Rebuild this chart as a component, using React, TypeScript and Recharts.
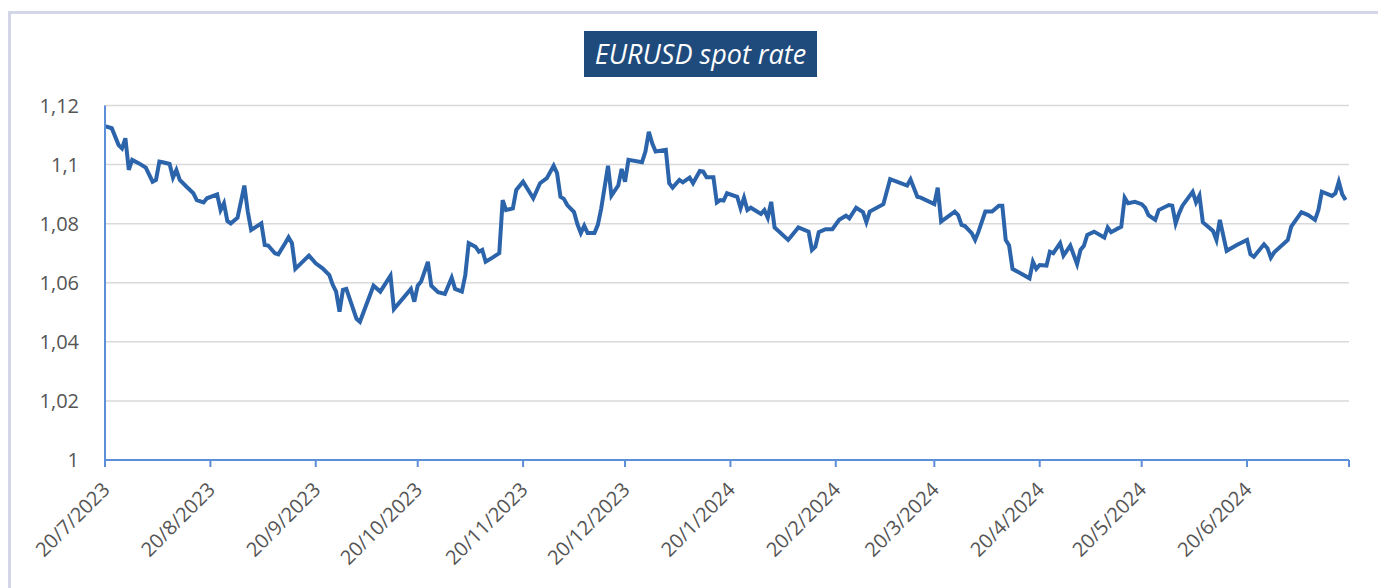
import React from 'react'
import { LineChart, Line, XAxis, YAxis, CartesianGrid } from 'recharts'

// day by day where the line turns
const dates = [
  '2023-07-20', '2023-07-22', '2023-07-24', '2023-07-25', '2023-07-26', '2023-07-27', '2023-07-28', '2023-07-30',
  '2023-08-01', '2023-08-03', '2023-08-04', '2023-08-05', '2023-08-06', '2023-08-08', '2023-08-09', '2023-08-10',
  '2023-08-11', '2023-08-13', '2023-08-15', '2023-08-16', '2023-08-18', '2023-08-19', '2023-08-22', '2023-08-23',
  '2023-08-24', '2023-08-25', '2023-08-26', '2023-08-28', '2023-08-30', '2023-08-31', '2023-09-01', '2023-09-04',
  '2023-09-05', '2023-09-06', '2023-09-08', '2023-09-09', '2023-09-11', '2023-09-12', '2023-09-13', '2023-09-14',
  '2023-09-18', '2023-09-20', '2023-09-22', '2023-09-24', '2023-09-25', '2023-09-26', '2023-09-27', '2023-09-28',
  '2023-09-29', '2023-10-02', '2023-10-03', '2023-10-07', '2023-10-09', '2023-10-12', '2023-10-13', '2023-10-18',
  '2023-10-19', '2023-10-20', '2023-10-21', '2023-10-23', '2023-10-24', '2023-10-26', '2023-10-28', '2023-10-30',
  '2023-10-31', '2023-11-02', '2023-11-03', '2023-11-04', '2023-11-06', '2023-11-07', '2023-11-08', '2023-11-09',
  '2023-11-11', '2023-11-13', '2023-11-14', '2023-11-15', '2023-11-17', '2023-11-18', '2023-11-20', '2023-11-23',
  '2023-11-25', '2023-11-27', '2023-11-29', '2023-11-30', '2023-12-01', '2023-12-02', '2023-12-03', '2023-12-05',
  '2023-12-06', '2023-12-07', '2023-12-08', '2023-12-09', '2023-12-11', '2023-12-12', '2023-12-13', '2023-12-15',
  '2023-12-16', '2023-12-18', '2023-12-19', '2023-12-20', '2023-12-21', '2023-12-25', '2023-12-26', '2023-12-27',
  '2023-12-28', '2023-12-29', '2024-01-01', '2024-01-02', '2024-01-03', '2024-01-05', '2024-01-06', '2024-01-08',
  '2024-01-09', '2024-01-11', '2024-01-12', '2024-01-13', '2024-01-15', '2024-01-16', '2024-01-17', '2024-01-18',
  '2024-01-19', '2024-01-22', '2024-01-23', '2024-01-24', '2024-01-25', '2024-01-26', '2024-01-29', '2024-01-30',
  '2024-01-31', '2024-02-01', '2024-02-02', '2024-02-06', '2024-02-09', '2024-02-12', '2024-02-13', '2024-02-14',
  '2024-02-15', '2024-02-17', '2024-02-19', '2024-02-21', '2024-02-23', '2024-02-24', '2024-02-26', '2024-02-28',
  '2024-02-29', '2024-03-01', '2024-03-05', '2024-03-07', '2024-03-12', '2024-03-13', '2024-03-15', '2024-03-16',
  '2024-03-20', '2024-03-21', '2024-03-22', '2024-03-26', '2024-03-27', '2024-03-28', '2024-03-29', '2024-03-31',
  '2024-04-01', '2024-04-02', '2024-04-04', '2024-04-06', '2024-04-08', '2024-04-09', '2024-04-10', '2024-04-11',
  '2024-04-12', '2024-04-17', '2024-04-18', '2024-04-19', '2024-04-20', '2024-04-22', '2024-04-23', '2024-04-24',
  '2024-04-26', '2024-04-27', '2024-04-29', '2024-05-01', '2024-05-02', '2024-05-03', '2024-05-04', '2024-05-06',
  '2024-05-09', '2024-05-10', '2024-05-11', '2024-05-14', '2024-05-15', '2024-05-16', '2024-05-18', '2024-05-20',
  '2024-05-21', '2024-05-22', '2024-05-24', '2024-05-25', '2024-05-28', '2024-05-29', '2024-05-30', '2024-05-31',
  '2024-06-01', '2024-06-04', '2024-06-05', '2024-06-06', '2024-06-07', '2024-06-10', '2024-06-11', '2024-06-12',
  '2024-06-14', '2024-06-17', '2024-06-20', '2024-06-21', '2024-06-22', '2024-06-25', '2024-06-26', '2024-06-27',
  '2024-06-28', '2024-07-02', '2024-07-03', '2024-07-06', '2024-07-08', '2024-07-10', '2024-07-11', '2024-07-12',
  '2024-07-15', '2024-07-16', '2024-07-17', '2024-07-18', '2024-07-19'
]

const eurusd = [
  1.1130, 1.1123, 1.1066, 1.1055, 1.1089, 1.0982, 1.1016, 1.1004,
  1.0990, 1.0942, 1.0948, 1.1010, 1.1008, 1.1002, 1.0956, 1.0982,
  1.0948, 1.0925, 1.0903, 1.0880, 1.0872, 1.0886, 1.0899, 1.0846,
  1.0869, 1.0809, 1.0801, 1.0820, 1.0929, 1.0841, 1.0779, 1.0801,
  1.0728, 1.0726, 1.0700, 1.0696, 1.0734, 1.0754, 1.0734, 1.0647,
  1.0692, 1.0666, 1.0649, 1.0626, 1.0593, 1.0570, 1.0502, 1.0576,
  1.0579, 1.0478, 1.0468, 1.0590, 1.0570, 1.0624, 1.0511, 1.0579,
  1.0536, 1.0590, 1.0604, 1.0671, 1.0590, 1.0568, 1.0562, 1.0617,
  1.0579, 1.0570, 1.0626, 1.0734, 1.0722, 1.0705, 1.0711, 1.0671,
  1.0685, 1.0700, 1.0880, 1.0846, 1.0852, 1.0914, 1.0942, 1.0886,
  1.0937, 1.0954, 1.0996, 1.0971, 1.0891, 1.0884, 1.0863, 1.0839,
  1.0798, 1.0768, 1.0793, 1.0768, 1.0768, 1.0796, 1.0852, 1.0996,
  1.0895, 1.0929, 1.0985, 1.0942, 1.1016, 1.1008, 1.1044, 1.1111,
  1.1072, 1.1044, 1.1050, 1.0937, 1.0922, 1.0948, 1.0940, 1.0956,
  1.0937, 1.0978, 1.0976, 1.0957, 1.0957, 1.0872, 1.0880, 1.0878,
  1.0903, 1.0891, 1.0852, 1.0888, 1.0846, 1.0854, 1.0833, 1.0846,
  1.0820, 1.0874, 1.0787, 1.0745, 1.0787, 1.0773, 1.0711, 1.0722,
  1.0771, 1.0781, 1.0781, 1.0813, 1.0827, 1.0818, 1.0854, 1.0839,
  1.0805, 1.0841, 1.0866, 1.0951, 1.0929, 1.0950, 1.0891, 1.0888,
  1.0866, 1.0922, 1.0807, 1.0841, 1.0829, 1.0796, 1.0792, 1.0768,
  1.0745, 1.0773, 1.0841, 1.0841, 1.0861, 1.0861, 1.0745, 1.0726,
  1.0647, 1.0615, 1.0671, 1.0647, 1.0660, 1.0658, 1.0705, 1.0700,
  1.0734, 1.0692, 1.0726, 1.0663, 1.0711, 1.0725, 1.0762, 1.0773,
  1.0753, 1.0787, 1.0771, 1.0790, 1.0888, 1.0869, 1.0874, 1.0866,
  1.0854, 1.0829, 1.0813, 1.0846, 1.0863, 1.0861, 1.0801, 1.0835,
  1.0861, 1.0908, 1.0872, 1.0895, 1.0805, 1.0775, 1.0745, 1.0813,
  1.0708, 1.0728, 1.0745, 1.0696, 1.0688, 1.0730, 1.0717, 1.0685,
  1.0703, 1.0745, 1.0790, 1.0839, 1.0829, 1.0813, 1.0846, 1.0908,
  1.0894, 1.0903, 1.0942, 1.0900, 1.0880
]

const xTicks = [
  '2023-07-20', '2023-08-20', '2023-09-20', '2023-10-20', '2023-11-20', '2023-12-20',
  '2024-01-20', '2024-02-20', '2024-03-20', '2024-04-20', '2024-05-20', '2024-06-20', '2024-07-20'
]
const yTicks = [1, 1.02, 1.04, 1.06, 1.08, 1.1, 1.12]

const data = dates.map((d, i) => ({ t: Date.parse(d), v: eurusd[i] }))
const tickTimes = xTicks.map(d => Date.parse(d))
const lastTick = tickTimes[tickTimes.length - 1]

const FONT = '"Open Sans", sans-serif'
const AXIS_BLUE = '#5b8fd8'
const LABEL_GREY = '#555555'

const fmtDate = (t: number) => {
  const d = new Date(t)
  return `${d.getUTCDate()}/${d.getUTCMonth() + 1}/${d.getUTCFullYear()}`
}

const fmtRate = (v: number) => String(+v.toFixed(2)).replace('.', ',')

const DateTick = (props: any) => {
  const { x, y, payload } = props
  // the last tick (end of the axis) has no label in the original
  if (payload.value === lastTick) return <g />
  const tx = x + 6
  const ty = y + 22
  return (
    <text
      x={tx}
      y={ty}
      transform={`rotate(-45, ${tx}, ${ty})`}
      textAnchor="end"
      fill={LABEL_GREY}
      fontSize={20}
      fontFamily={FONT}
    >
      {fmtDate(payload.value)}
    </text>
  )
}

export default function App() {
  return (
    <div
      style={{
        position: 'relative',
        marginTop: 3,
        width: 1378,
        height: 577,
        borderTop: '3px solid #d3d6e6',
        borderLeft: '3px solid #d3d6e6',
        boxSizing: 'border-box',
        overflow: 'hidden',
        background: '#fff'
      }}
    >
      <div
        style={{
          position: 'absolute',
          left: 573,
          top: 17,
          width: 233,
          height: 46,
          background: '#1f4a7c',
          color: '#fff',
          fontFamily: FONT,
          fontStyle: 'italic',
          fontSize: 27,
          lineHeight: '46px',
          textAlign: 'center',
          whiteSpace: 'nowrap'
        }}
      >
        EURUSD spot rate
      </div>
      <div style={{ position: 'absolute', left: -3, top: -6 }}>
        <LineChart width={1376} height={580} data={data} margin={{ top: 97.5, right: 35, left: 0, bottom: 28 }}>
          <CartesianGrid vertical={false} stroke="#d9d9d9" strokeWidth={1.5} />
          <XAxis
            dataKey="t"
            type="number"
            domain={[tickTimes[0], lastTick]}
            ticks={tickTimes}
            interval={0}
            height={100}
            stroke={AXIS_BLUE}
            strokeWidth={2}
            tickSize={7}
            tickMargin={2}
            tick={<DateTick />}
          />
          <YAxis
            type="number"
            domain={[1, 1.12]}
            ticks={yTicks}
            interval={0}
            width={97}
            stroke={AXIS_BLUE}
            strokeWidth={2}
            tickLine={false}
            tickSize={6}
            tickMargin={20}
            tickFormatter={fmtRate}
            tick={{ fill: LABEL_GREY, fontSize: 20, fontFamily: FONT }}
          />
          <Line
            type="linear"
            dataKey="v"
            stroke="#2c64ab"
            strokeWidth={4}
            dot={false}
            isAnimationActive={false}
          />
        </LineChart>
      </div>
    </div>
  )
}
